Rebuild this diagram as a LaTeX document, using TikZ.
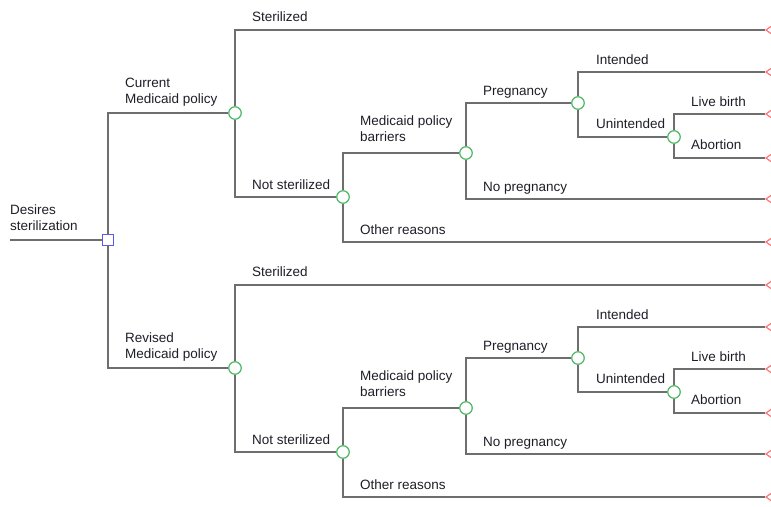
\documentclass[tikz,border=0pt]{standalone}
\usepackage{fontspec}
\setmainfont{Liberation Sans}
\usetikzlibrary{shapes.geometric}
\definecolor{linegray}{HTML}{6E6E6E}
\definecolor{chancegreen}{HTML}{4DB866}
\definecolor{decblue}{HTML}{5A5AF0}
\definecolor{termred}{HTML}{FF6A6A}
\definecolor{labtext}{HTML}{1E1E28}

\tikzset{
  branch/.style={draw=linegray,line width=1.5pt},
  chance/.style={circle,draw=chancegreen,fill=white,line width=1.2pt,
    minimum size=12.5pt,inner sep=0pt},
  decision/.style={rectangle,draw=decblue,fill=white,line width=1.1pt,
    minimum size=11pt,inner sep=0pt},
  terminal/.style={isosceles triangle,isosceles triangle apex angle=70,
    shape border rotate=180,draw=termred,line width=1.1pt,
    minimum height=12pt,inner sep=0pt,anchor=apex},
  lab/.style={anchor=south west,inner sep=0pt,align=left,text depth=0pt,
    font=\fontsize{13.5}{16}\selectfont,text=labtext},
}

\begin{document}
\begin{tikzpicture}[x=1pt,y=-1pt]
    \useasboundingbox (0,0) rectangle (771,506);
    % --- root and decision ---
    \coordinate (root) at (10,240);
    \node[decision] (dec) at (108,240) {};
    \node[lab] (root-lab) at (10,231) {Desires\\sterilization};
    \draw[branch] (root) -- (dec);
    % --- the two policy subtrees ---
    \foreach \h/\dy/\pol in {cur/0/Current,rev/255/Revised} {
      \node[chance] (\h-pol) at (235,113+\dy) {};
      \node[chance] (\h-nst) at (343,197+\dy) {};
      \node[chance] (\h-bar) at (466,153+\dy) {};
      \node[chance] (\h-preg) at (578,103+\dy) {};
      \node[chance] (\h-unint) at (674,137+\dy) {};
      \node[terminal] (\h-ster) at (765,30+\dy) {};
      \node[terminal] (\h-oth) at (765,242+\dy) {};
      \node[terminal] (\h-nopreg) at (765,199+\dy) {};
      \node[terminal] (\h-int) at (765,72+\dy) {};
      \node[terminal] (\h-live) at (765,114+\dy) {};
      \node[terminal] (\h-abort) at (765,158+\dy) {};
      \draw[branch] (dec) |- (\h-pol);
      \draw[branch] (\h-pol) |- (\h-ster);
      \draw[branch] (\h-pol) |- (\h-nst);
      \draw[branch] (\h-nst) |- (\h-bar);
      \draw[branch] (\h-nst) |- (\h-oth);
      \draw[branch] (\h-bar) |- (\h-preg);
      \draw[branch] (\h-bar) |- (\h-nopreg);
      \draw[branch] (\h-preg) |- (\h-int);
      \draw[branch] (\h-preg) |- (\h-unint);
      \draw[branch] (\h-unint) |- (\h-live);
      \draw[branch] (\h-unint) |- (\h-abort);
      % labels
      \node[lab] (\h-pol-lab) at (125,104+\dy) {\pol\\Medicaid policy};
      \node[lab] (\h-ster-lab) at (252,21.5+\dy) {Sterilized};
      \node[lab] (\h-nst-lab) at (252,189.5+\dy) {Not sterilized};
      \node[lab] (\h-bar-lab) at (360,141.5+\dy) {Medicaid policy\\barriers};
      \node[lab] (\h-oth-lab) at (360,234.5+\dy) {Other reasons};
      \node[lab] (\h-preg-lab) at (483,95.5+\dy) {Pregnancy};
      \node[lab] (\h-nopreg-lab) at (483,191.5+\dy) {No pregnancy};
      \node[lab] (\h-int-lab) at (596,64.5+\dy) {Intended};
      \node[lab] (\h-unint-lab) at (596,128.5+\dy) {Unintended};
      \node[lab] (\h-live-lab) at (691,106.5+\dy) {Live birth};
      \node[lab] (\h-abort-lab) at (691,149.5+\dy) {Abortion};
    }
\end{tikzpicture}
\end{document}
